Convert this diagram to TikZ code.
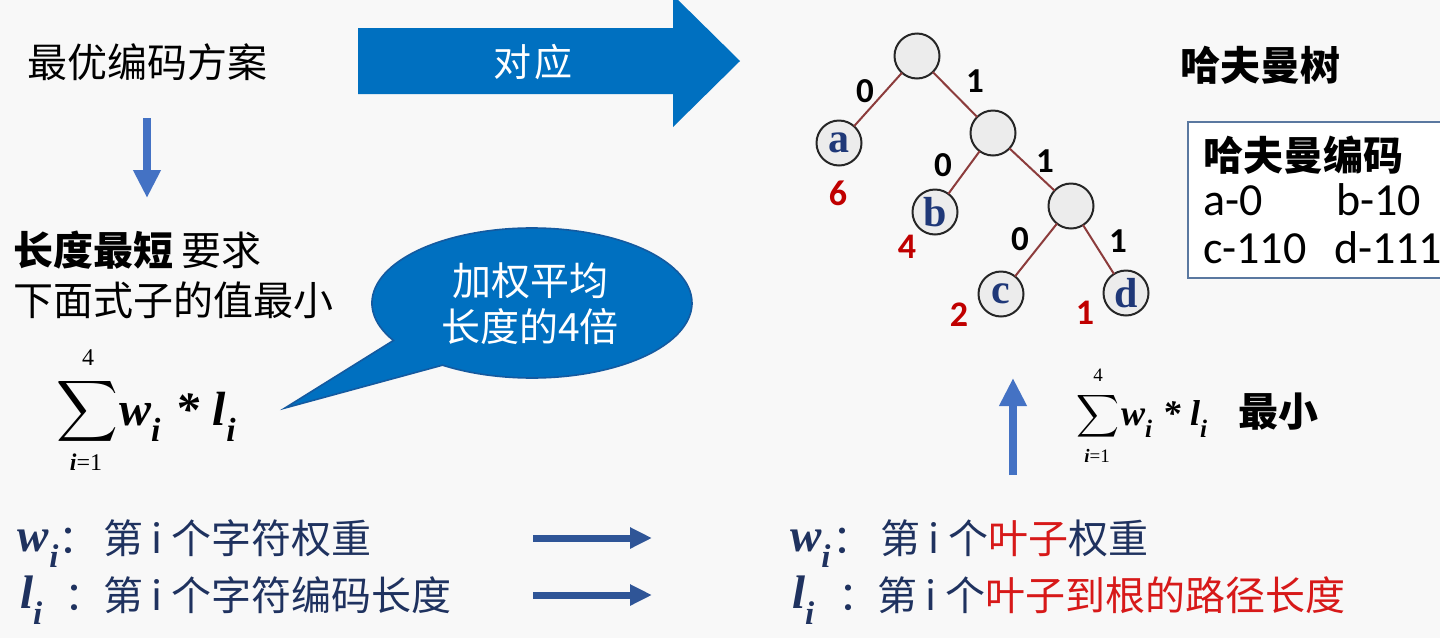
\documentclass[tikz,border=0pt]{standalone}
\usepackage{amsmath}
\usepackage{graphicx}
\usepackage{fontspec}
\newfontfamily\cjk{Noto Sans CJK SC}
\newfontfamily\tms{Liberation Serif}
\newfontfamily\carl{Carlito}
\usetikzlibrary{arrows.meta}

\definecolor{pagebg}{RGB}{248,248,248}
\definecolor{bigblue}{RGB}{0,112,192}
\definecolor{bubbleedge}{RGB}{20,90,160}
\definecolor{flowblue}{RGB}{68,114,196}
\definecolor{darkarrow}{RGB}{47,85,151}
\definecolor{navy}{RGB}{31,50,95}
\definecolor{leafblue}{RGB}{31,56,120}
\definecolor{wred}{RGB}{192,0,0}
\definecolor{hred}{RGB}{215,25,25}
\definecolor{edgebrown}{RGB}{140,60,60}
\definecolor{nodefill}{RGB}{236,236,236}
\definecolor{boxline}{RGB}{90,120,160}

% bold-italic and upright Times-like letters for the formulas
\newcommand{\bv}[1]{\text{\tms\bfseries\itshape #1}}
\newcommand{\rv}[1]{\text{\tms #1}}
% a lowered bold-italic subscript
\newcommand{\lsub}[1]{_{\raisebox{-0.45ex}{$\scriptstyle\bv{#1}$}}}
% the summand of the weighted path length
\newcommand{\wlterm}{$\bv{w}\lsub{i}\;\bv{*}\;\bv{l}\lsub{i}$}

\begin{document}
\begin{tikzpicture}[x=0.5pt,y=-0.5pt,
  every node/.style={inner sep=0pt, outer sep=0pt},
  zh/.style={font=\cjk\fontsize{20pt}{24pt}\selectfont},
  zhb/.style={font=\cjk\bfseries\fontsize{20pt}{24pt}\selectfont},
  treenode/.style={circle, draw=black!85, line width=1pt, fill=nodefill, minimum size=22.5pt},
  leaf/.style={treenode, text=leafblue, font=\tms\bfseries\fontsize{21pt}{21pt}\selectfont},
  edge/.style={draw=edgebrown, line width=1pt},
  bitlabel/.style={font=\carl\bfseries\fontsize{17.5pt}{17.5pt}\selectfont},
  weight/.style={text=wred, font=\carl\bfseries\fontsize{18pt}{18pt}\selectfont},
  code/.style={font=\carl\fontsize{23pt}{23pt}\selectfont},
  flowarrow/.style={draw=flowblue, line width=4pt, -{Triangle[width=13pt,length=14pt]}},
  maparrow/.style={draw=darkarrow, line width=3.5pt, -{Triangle[width=10pt,length=11pt]}},
  formula/.style={text=navy, font=\fontsize{23.5pt}{27pt}\selectfont},
  limit/.style={font=\tms\fontsize{#1}{#1}\selectfont},
]
\useasboundingbox (0,0) rectangle (1440,638);
\clip (0,0) rectangle (1440,638);
\fill[pagebg] (0,0) rectangle (1440,638);

% ---- left column ----
\node[zh, anchor=west] (plan) at (27,62) {最优编码方案};
\coordinate (downA) at (147,118);
\coordinate (downB) at (147,198);
\draw[flowarrow] (downA) -- (downB);

\node[zh, anchor=west] (req1) at (13,250) {{\bfseries 长度最短} 要求};
\node[zh, anchor=west] (req2) at (13,300) {下面式子的值最小};

% sum with its limits
\node[font=\fontsize{24pt}{28pt}\selectfont] (sigL) at (87,411) {\scalebox{0.86}{$\displaystyle\sum$}};
\node[limit=12pt] (topL) at (88,358) {4};
\node[limit=12pt] (botL) at (86,462) {{\bfseries\itshape i}=1};
\node[font=\fontsize{24pt}{28pt}\selectfont, anchor=base west] (termL) at (119,425) {\wlterm};

% speech bubble
\filldraw[fill=bigblue, draw=bubbleedge, line width=0.8pt]
  (285,408) -- (393.4,340.5)
  arc[start angle=150, end angle=484, x radius=160, y radius=75] -- cycle;
\node[text=white, align=center, font=\cjk\fontsize{19.5pt}{23pt}\selectfont] (avg) at (530,304)
  {加权平均\\长度的4倍};

% big arrow
\fill[bigblue] (358,28) -- (673,28) -- (673,-5) -- (740,61) -- (673,127)
  -- (673,94) -- (358,94) -- cycle;
\node[text=white, font=\cjk\fontsize{19pt}{19pt}\selectfont] (corr) at (533,62) {对\kern2pt 应};

% ---- Huffman tree ----
\node[treenode] (root) at (917,56) {};
\node[leaf] (a) at (839,143) {a};
\node[treenode] (n2) at (993,133) {};
\node[leaf] (b) at (935,212) {b};
\node[treenode] (n3) at (1071,206) {};
\node[leaf] (c) at (1001,294) {c};
\node[leaf] (d) at (1126,293) {d};
\draw[edge] (root) -- (a);
\draw[edge] (root) -- (n2);
\draw[edge] (n2) -- (b);
\draw[edge] (n2) -- (n3);
\draw[edge] (n3) -- (c);
\draw[edge] (n3) -- (d);

\node[bitlabel] (l0a) at (865,91) {0};
\node[bitlabel] (l1a) at (975,81) {1};
\node[bitlabel] (l0b) at (943,165) {0};
\node[bitlabel] (l1b) at (1045,161) {1};
\node[bitlabel] (l0c) at (1020,239) {0};
\node[bitlabel] (l1c) at (1118,241) {1};

\node[weight] (wa) at (838,193) {6};
\node[weight] (wb) at (907,247) {4};
\node[weight] (wc) at (959,315) {2};
\node[weight] (wd) at (1085,313) {1};

\node[zhb, anchor=west] (htree) at (1180,65) {哈夫曼树};
\node[draw=boxline, line width=0.8pt, fill=white, minimum width=140pt, minimum height=78pt,
  anchor=north west] (codebox) at (1188,122) {};
\node[zhb, anchor=west] (hcode) at (1203,155) {哈夫曼编码};
\node[code, anchor=base west] (ca) at (1203,215) {a-0};
\node[code, anchor=base west] (cb) at (1336,215) {b-10};
\node[code, anchor=base west] (cc) at (1203,263) {c-110};
\node[code, anchor=base west] (cd) at (1334,263) {d-111};

% ---- right formula ----
\coordinate (upA) at (1013,475);
\coordinate (upB) at (1013,378);
\draw[flowarrow] (upA) -- (upB);
\node[font=\fontsize{19pt}{22pt}\selectfont] (sigR) at (1098,416) {\scalebox{0.86}{$\displaystyle\sum$}};
\node[limit=9.5pt] (topR) at (1098,375) {4};
\node[limit=9.5pt] (botR) at (1097,456) {{\bfseries\itshape i}=1};
\node[font=\fontsize{18pt}{21pt}\selectfont, anchor=base west] (termR) at (1121,425) {\wlterm};
\node[zhb, anchor=west] (minR) at (1238,412) {最小};

% ---- bottom definitions ----
\node[formula, anchor=base west] (wL) at (18,551) {$\bv{w}\lsub{i}$};
\node[zh, text=navy, anchor=base west] (cwL) at (58,553) {：};
\node[zh, text=navy, anchor=base west] (twL) at (103,553) {第 i 个字符权重};
\node[formula, anchor=base west] (lL) at (20,608) {$\bv{l}\lsub{i}$};
\node[zh, text=navy, anchor=base west] (clL) at (64,610) {：};
\node[zh, text=navy, anchor=base west] (tlL) at (103,610) {第 i 个字符编码长度};

\coordinate (m1a) at (533,538);
\coordinate (m1b) at (652,538);
\coordinate (m2a) at (533,595);
\coordinate (m2b) at (652,595);
\draw[maparrow] (m1a) -- (m1b);
\draw[maparrow] (m2a) -- (m2b);

\node[formula, anchor=base west] (wR) at (790,551) {$\bv{w}\lsub{i}$};
\node[zh, text=navy, anchor=base west] (cwR) at (832,553) {：};
\node[zh, text=navy, anchor=base west] (twR) at (880,553) {第 i 个\textcolor{hred}{叶子}权重};
\node[formula, anchor=base west] (lR) at (792,608) {$\bv{l}\lsub{i}$};
\node[zh, text=navy, anchor=base west] (clR) at (838,610) {：};
\node[zh, text=navy, anchor=base west] (tlR) at (877,610) {第 i 个\textcolor{hred}{叶子到根的路径长度}};
\end{tikzpicture}
\end{document}
